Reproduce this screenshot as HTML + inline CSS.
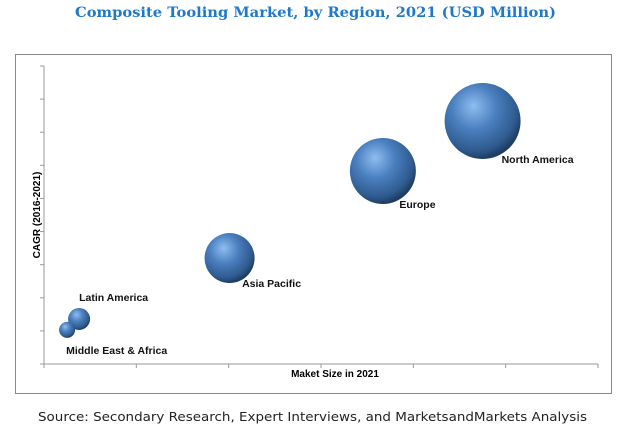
<!DOCTYPE html>
<html><head><meta charset="utf-8"><style>
html,body{margin:0;padding:0;background:#fff;width:618px;height:429px;overflow:hidden;font-family:"Liberation Sans",sans-serif}
</style></head><body>
<svg width="618" height="429">
<defs>
<radialGradient id="g" cx="0.4" cy="0.35" r="0.65" fx="0.38" fy="0.3">
<stop offset="0" stop-color="#8fbdf0"/>
<stop offset="0.45" stop-color="#4a7fbf"/>
<stop offset="0.85" stop-color="#2f5a8e"/>
<stop offset="1" stop-color="#1e3d63"/>
</radialGradient>
</defs>
<text x="75" y="17" textLength="481" lengthAdjust="spacingAndGlyphs" font-family="DejaVu Serif,serif" font-weight="bold" font-size="14" fill="#1f78c8">Composite Tooling Market, by Region, 2021 (USD Million)</text>
<rect x="15.5" y="54.5" width="596" height="339" fill="none" stroke="#8a8a8a"/>
<g id="axes"></g>
<g id="bubbles"></g>
<text x="335" y="377" text-anchor="middle" font-weight="bold" font-size="10">Maket Size in 2021</text>
<text transform="translate(40,215) rotate(-90)" text-anchor="middle" font-weight="bold" font-size="10">CAGR (2016-2021)</text>
<text x="38" y="421" textLength="549" lengthAdjust="spacingAndGlyphs" font-family="DejaVu Sans,sans-serif" font-size="12" fill="#222">Source: Secondary Research, Expert Interviews, and MarketsandMarkets Analysis</text>
</svg>
<script>
const regions=["North America","Europe","Asia Pacific","Latin America","Middle East & Africa"];
const marketSize=[4.75,3.67,2.01,0.38,0.25];
const cagr=[7.34,5.83,3.2,1.36,1.03];
const bubbleSize=[38,33,25,11,8];
const xTickCount=6, yTickCount=9;
const X0=44,X1=598,Y0=364,Y1=66;
const sx=v=>X0+v/xTickCount*(X1-X0);
const sy=v=>Y0-v/yTickCount*(Y0-Y1);
const NS="http://www.w3.org/2000/svg";
const ax=document.getElementById('axes');
function mk(t,a,p){const e=document.createElementNS(NS,t);for(const k in a)e.setAttribute(k,a[k]);p.appendChild(e);return e;}
let e=mk('line',{x1:X0,y1:Y0,x2:X0,y2:Y1,stroke:'#999'},ax);


e=mk('line',{x1:X0,y1:Y0,x2:X1,y2:Y0,stroke:'#999'},ax);


for(let i=0;i<=yTickCount;i++){e=mk('line',{x1:X0-4,x2:X0,y1:sy(i),y2:sy(i),stroke:'#999'},ax);

}
for(let i=0;i<=xTickCount;i++){e=mk('line',{x1:sx(i),x2:sx(i),y1:Y0,y2:Y0+4,stroke:'#999'},ax);

}
const bg=document.getElementById('bubbles');
regions.forEach((r,i)=>{
 const cx=sx(marketSize[i]),cy=sy(cagr[i]),rad=bubbleSize[i];
 const c=mk('circle',{cx:cx,cy:cy,r:rad,fill:'url(#g)'},bg);
 
 
 let tx,ty;
 if(i<3){tx=cx+rad*0.5;ty=cy+rad+4;}
 else if(i==3){tx=cx;ty=cy-18;}
 else{tx=cx-1;ty=cy+24;}
 const t=mk('text',{x:tx,y:ty,'font-size':10.5,'font-weight':'bold','text-anchor':'start',fill:'#111'},bg);
 t.textContent=r;
 
 
});
</script>
</body></html>
